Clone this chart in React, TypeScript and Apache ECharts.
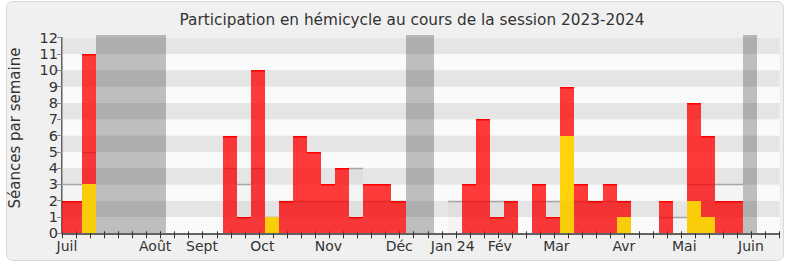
import React, { useEffect, useRef } from "react";
import * as echarts from "echarts";

// Weekly data, session 2023-2024 (week index 0 = first, partially visible week)
const presences = [2, 2, 11, 0, 0, 0, 0, 0, 0, 0, 0, 0, 6, 1, 10, 1, 2, 6, 5, 3, 4, 1, 3, 3, 2, 0, 0, 0, 0, 3, 7, 1, 2, 0, 3, 1, 9, 3, 2, 3, 2, 0, 0, 2, 0, 8, 6, 2, 2, 0, 0, 0];
const participations = [0, 0, 3, 0, 0, 0, 0, 0, 0, 0, 0, 0, 0, 0, 0, 1, 0, 0, 0, 0, 0, 0, 0, 0, 0, 0, 0, 0, 0, 0, 0, 0, 0, 0, 0, 0, 6, 0, 0, 0, 1, 0, 0, 0, 0, 2, 1, 0, 0, 0, 0, 0];
const mediane = [3, 3, 5, 0, 0, 0, 0, 0, 0, 0, 0, 0, 4, 3, 4, 1, 2, 2, 2, 2, 2, 4, 2, 2, 2, 0, 0, 0, 2, 2, 2, 2, 2, 0, 2, 2, 2, 2, 2, 2, 2, 0, 0, 1, 1, 3, 3, 3, 3, 0, 0, 0];
const vacances = [3, 4, 5, 6, 7, 25, 26, 49];

const monthLabels = ["Juil", "Août", "Sept", "Oct", "Nov", "Déc", "Jan 24", "Fév", "Mar", "Avr", "Mai", "Juin"];
const monthPos = [0, 6.62, 9.95, 14.24, 18.93, 23.97, 27.77, 31.12, 35.14, 39.94, 44.23, 48.97];
const yTicks = [0, 1, 2, 3, 4, 5, 6, 7, 8, 9, 10, 11, 12];

const TITLE = "Participation en hémicycle au cours de la session 2023-2024";
const Y_NAME = "Séances par semaine";
const FONT = "DejaVu Sans";
const OFF = -0.58;
const N_WEEKS = 51;
const weekTicks = Array.from({ length: N_WEEKS + 1 }, (_, i) => i);

function rectFor(params: any, api: any, i: number, v: number, extraTop = 0) {
  const a = api.coord([i + OFF, v]);
  const b = api.coord([i + OFF + 1, 0]);
  const cs = params.coordSys;
  const x1 = Math.max(Math.round(a[0]), Math.round(cs.x));
  const x2 = Math.min(Math.round(b[0]), Math.round(cs.x + cs.width));
  if (x2 <= x1) return null;
  const y1 = Math.round(a[1]) - extraTop;
  const y2 = Math.round(b[1]);
  return { x: x1, y: y1, width: x2 - x1, height: y2 - y1 };
}

const barRender = (fill: string, topStroke: string | null) => (params: any, api: any) => {
  const i = api.value(0);
  const v = api.value(1);
  if (!v) return null;
  const r = rectFor(params, api, i, v);
  if (!r) return null;
  const children: any[] = [{ type: "rect", shape: r, style: { fill } }];
  if (topStroke) {
    children.push({
      type: "line",
      shape: { x1: r.x, y1: r.y + 0.75, x2: r.x + r.width, y2: r.y + 0.75 },
      style: { stroke: topStroke, lineWidth: 1.5 },
    });
  }
  return { type: "group", children };
};

const medianLineRender = (params: any, api: any) => {
  const i = api.value(0);
  const v = api.value(1);
  if (!v) return null;
  const r = rectFor(params, api, i, v);
  if (!r) return null;
  return {
    type: "line",
    shape: { x1: r.x, y1: r.y + 0.5, x2: r.x + r.width, y2: r.y + 0.5 },
    style: { stroke: "#a8a8a8", lineWidth: 1.5 },
  };
};

const medianFillRender = (params: any, api: any) => {
  const i = api.value(0);
  const v = api.value(1);
  if (!v) return null;
  const r = rectFor(params, api, i, v);
  if (!r) return null;
  return { type: "rect", shape: r, style: { fill: "rgba(0,0,0,0.025)" } };
};

const vacRender = (params: any, api: any) => {
  const i = api.value(0);
  const r = rectFor(params, api, i, 12, 3);
  if (!r) return null;
  return { type: "rect", shape: r, style: { fill: "rgba(0,0,0,0.24)" } };
};

export default function App() {
  const ref = useRef<HTMLDivElement>(null);
  useEffect(() => {
    if (!ref.current) return;
    const chart = echarts.init(ref.current, undefined, { renderer: "svg" });
    const option: any = {
      animation: false,
      textStyle: { fontFamily: FONT },
      title: {
        text: TITLE,
        left: 407,
        top: 7,
        textAlign: "center",
        textStyle: { fontFamily: FONT, fontSize: 15.3, fontWeight: "normal", color: "#333" },
      },
      graphic: [
        {
          type: "rect",
          z: -100,
          shape: { x: 6.5, y: 1.5, width: 777, height: 259, r: 6 },
          style: { fill: "#f0f0f0", stroke: "#d9d9d9", lineWidth: 1 },
        },
        {
          type: "text",
          x: 15,
          y: 128,
          rotation: Math.PI / 2,
          style: {
            text: Y_NAME,
            fontFamily: FONT,
            fontSize: 15,
            fill: "#333",
            textAlign: "center",
            textVerticalAlign: "middle",
          },
        },
      ],
      grid: { left: 62, right: 10.5, top: 37.7, bottom: 33.7, containLabel: false, outerBoundsMode: "none" },
      xAxis: [
        {
          type: "value",
          min: 0,
          max: N_WEEKS,
          position: "bottom",
          axisLine: { show: true, onZero: false, lineStyle: { color: "#333", width: 1.5 } },
          axisTick: { show: true, customValues: weekTicks, length: 5, lineStyle: { color: "#333" } },
          axisLabel: {
            show: true,
            customValues: monthPos,
            margin: 6,
            fontSize: 14,
            lineHeight: 14,
            color: "#333",
            fontFamily: FONT,
            formatter: (val: number) => {
              let best = 0;
              for (let k = 0; k < monthPos.length; k++) {
                if (Math.abs(monthPos[k] - val) < Math.abs(monthPos[best] - val)) best = k;
              }
              return best === 0 ? "{first|" + monthLabels[best] + "}" : monthLabels[best];
            },
            rich: {
              first: { fontSize: 14, lineHeight: 14, color: "#333", fontFamily: FONT, padding: [0, 0, 0, 10] },
            },
          },
          splitLine: { show: false },
        },
        {
          type: "value",
          min: 0,
          max: N_WEEKS,
          position: "top",
          axisLine: { show: false },
          axisTick: { show: true, customValues: weekTicks, length: 2, lineStyle: { color: "#333" } },
          axisLabel: { show: false },
          splitLine: { show: false },
        },
      ],
      yAxis: [
        {
          type: "value",
          min: 0,
          max: 12,
          interval: 1,
          axisLine: { show: true, lineStyle: { color: "#333", width: 1.5 } },
          axisTick: { show: true, length: 5, lineStyle: { color: "#888" } },
          axisLabel: {
            show: true,
            showMinLabel: true,
            showMaxLabel: true,
            fontSize: 14.5,
            lineHeight: 12,
            color: "#333",
            margin: 4,
            fontFamily: FONT,
          },
          splitLine: { show: false },
          splitArea: { show: true, areaStyle: { color: ["#fafafa", "#e5e5e5"] } },
        },
        {
          type: "value",
          min: 0,
          max: 12,
          position: "right",
          axisLine: { show: true, lineStyle: { color: "#aaa", width: 1 } },
          axisTick: { show: false },
          axisLabel: { show: false },
          splitLine: { show: false },
          splitArea: { show: false },
        },
      ],
      series: [
        {
          name: "Médiane (trait)",
          type: "custom",
          z: 2,
          clip: false,
          renderItem: medianLineRender,
          data: mediane.map((v, i) => [i, v]),
        },
        {
          name: "Présences",
          type: "custom",
          z: 3,
          clip: false,
          renderItem: barRender("rgba(255,0,0,0.77)", "#ff0000"),
          data: presences.map((v, i) => [i, v]),
        },
        {
          name: "Participations",
          type: "custom",
          z: 4,
          clip: false,
          renderItem: barRender("#ffd20a", null),
          data: participations.map((v, i) => [i, v]),
        },
        {
          name: "Médiane",
          type: "custom",
          z: 5,
          clip: false,
          renderItem: medianFillRender,
          data: mediane.map((v, i) => [i, v]),
        },
        {
          name: "Vacances",
          type: "custom",
          z: 6,
          clip: false,
          renderItem: vacRender,
          data: vacances.map((i) => [i, 12]),
        },
      ],
    };
    chart.setOption(option);
    return () => chart.dispose();
  }, []);
  return (
    <div
      ref={ref}
      style={{ position: "fixed", left: 0, top: 0, width: 790, height: 267, background: "#ffffff" }}
    />
  );
}
